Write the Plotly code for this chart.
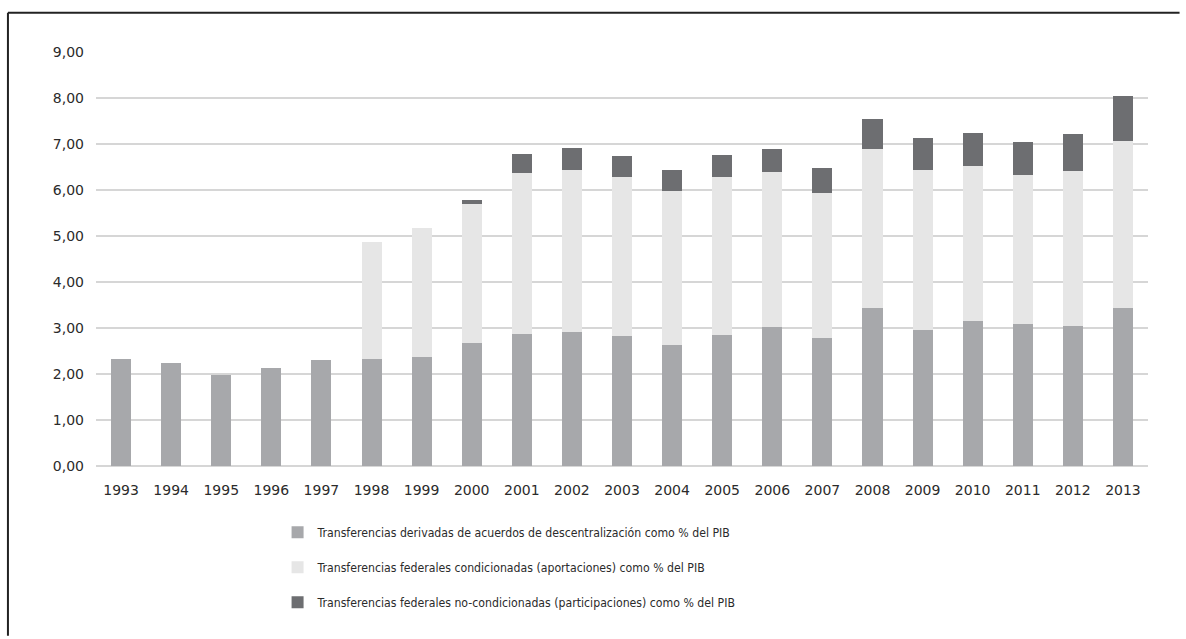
import plotly.graph_objects as go

# Años del periodo analizado
years = ["1993", "1994", "1995", "1996", "1997", "1998", "1999", "2000", "2001", "2002", "2003",
         "2004", "2005", "2006", "2007", "2008", "2009", "2010", "2011", "2012", "2013"]

# Transferencias como % del PIB, por componente
descentralizacion = [2.32, 2.25, 1.98, 2.13, 2.30, 2.32, 2.38, 2.67, 2.87, 2.92, 2.82,
                     2.64, 2.85, 3.03, 2.78, 3.43, 2.96, 3.16, 3.08, 3.05, 3.43]
aportaciones = [0.00, 0.00, 0.00, 0.00, 0.00, 2.54, 2.79, 3.02, 3.50, 3.52, 3.47,
                3.34, 3.44, 3.37, 3.16, 3.46, 3.48, 3.36, 3.25, 3.37, 3.64]
participaciones = [0.00, 0.00, 0.00, 0.00, 0.00, 0.00, 0.00, 0.10, 0.41, 0.47, 0.45,
                   0.46, 0.48, 0.49, 0.53, 0.65, 0.70, 0.71, 0.72, 0.80, 0.97]

series_names = [
    "Transferencias derivadas de acuerdos de descentralización como % del PIB",
    "Transferencias federales condicionadas (aportaciones) como % del PIB",
    "Transferencias federales no-condicionadas (participaciones) como % del PIB",
]
series_values = [descentralizacion, aportaciones, participaciones]
series_colors = ["#a7a8ab", "#e6e6e6", "#6d6e71"]

fig = go.Figure()
for i, (name, vals, col) in enumerate(zip(series_names, series_values, series_colors)):
    fig.add_trace(go.Bar(
        x=years, y=vals, name=name, marker=dict(color=col, line=dict(width=0)),
        legendgroup=f"g{i}",
    ))

tick_font = dict(family="DejaVu Sans, sans-serif", size=14, color="#2b2b2b")

# marco: solo los bordes superior e izquierdo quedan dentro de la imagen
frame = dict(color="#222222", width=2)
border_left = -0.0837
border_top = 1.095
page_right = 1.03
page_bottom = -0.41

fig.update_layout(
    width=1186, height=639,
    barmode="stack", bargap=0.6,
    separators=",.",
    plot_bgcolor="white", paper_bgcolor="white",
    margin=dict(l=96, r=38, t=52, b=173),
    xaxis=dict(type="category", tickfont=tick_font, showgrid=False, showline=False,
               ticks="", ticklabelstandoff=14),
    yaxis=dict(range=[0, 9], dtick=1, tickformat=".2f", tickfont=tick_font,
               showgrid=True, gridcolor="#d6d6d6", gridwidth=2,
               zeroline=True, zerolinecolor="#d6d6d6", zerolinewidth=2,
               showline=False, ticks="", ticklabelstandoff=11),
    legend=dict(
        orientation="v", x=0.1726, xanchor="left", y=-0.125, yanchor="top",
        font=dict(family="Liberation Sans Narrow, DejaVu Sans Condensed, sans-serif",
                  size=12.2, color="#2b2b2b"),
        tracegroupgap=16, traceorder="grouped", itemwidth=30,
        bgcolor="rgba(0,0,0,0)",
    ),
    showlegend=True,
    shapes=[
        dict(type="line", xref="paper", yref="paper",
             x0=border_left, x1=page_right, y0=border_top, y1=border_top, line=frame),
        dict(type="line", xref="paper", yref="paper",
             x0=border_left, x1=border_left, y0=border_top, y1=page_bottom, line=frame),
    ],
)

fig.write_html("out.html")
